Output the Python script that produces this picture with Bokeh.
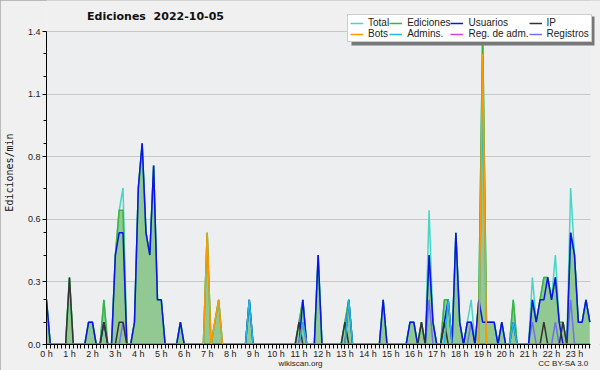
from bokeh.plotting import figure
from bokeh.models import Range1d, FixedTicker, Legend, LegendItem, Label, BoxAnnotation, LinearAxis
from bokeh.embed import file_html
from bokeh.resources import INLINE

# 10-minute bins, 00:00 ... 23:40 (6 bins per hour)
hour_labels = ["0 h", "1 h", "2 h", "3 h", "4 h", "5 h", "6 h", "7 h", "8 h", "9 h", "10 h", "11 h",
               "12 h", "13 h", "14 h", "15 h", "16 h", "17 h", "18 h", "19 h", "20 h", "21 h", "22 h", "23 h"]

# values in edits/min, one row per hour
total = [
    0.2, 0, 0, 0, 0, 0,
    0.3, 0, 0, 0, 0, 0.1,
    0.1, 0, 0, 0.2, 0, 0,
    0.4, 0.6, 0.7, 0, 0, 0.1,
    0.7, 0.9, 0.5, 0.4, 0.8, 0.2,
    0.2, 0, 0, 0, 0, 0.1,
    0, 0, 0, 0, 0, 0,
    0.5, 0, 0.1, 0.2, 0, 0,
    0, 0, 0, 0, 0, 0.2,
    0, 0, 0, 0, 0, 0,
    0, 0, 0, 0, 0, 0,
    0.1, 0.2, 0, 0, 0, 0.4,
    0, 0, 0, 0, 0, 0,
    0.1, 0.2, 0, 0, 0, 0,
    0, 0, 0, 0, 0.2, 0,
    0, 0, 0, 0, 0, 0.1,
    0.1, 0, 0.1, 0, 0.6, 0.1,
    0, 0, 0.2, 0.2, 0, 0.5,
    0.1, 0, 0.1, 0.2, 0, 0.2,
    1.4, 0.1, 0.1, 0.1, 0, 0.1,
    0, 0, 0.2, 0, 0, 0,
    0, 0.3, 0.1, 0.2, 0.3, 0.3,
    0.2, 0.4, 0.1, 0.1, 0, 0.7,
    0.4, 0.1, 0.1, 0.2, 0.1,
]
edits = [
    0.2, 0, 0, 0, 0, 0,
    0.3, 0, 0, 0, 0, 0.1,
    0.1, 0, 0, 0.2, 0, 0,
    0.4, 0.6, 0.6, 0, 0, 0.1,
    0.7, 0.9, 0.5, 0.4, 0.8, 0.2,
    0.2, 0, 0, 0, 0, 0.1,
    0, 0, 0, 0, 0, 0,
    0.5, 0, 0.1, 0.2, 0, 0,
    0, 0, 0, 0, 0, 0.2,
    0, 0, 0, 0, 0, 0,
    0, 0, 0, 0, 0, 0,
    0.1, 0.2, 0, 0, 0, 0.4,
    0, 0, 0, 0, 0, 0,
    0.1, 0.2, 0, 0, 0, 0,
    0, 0, 0, 0, 0.2, 0,
    0, 0, 0, 0, 0, 0.1,
    0.1, 0, 0.1, 0, 0.4, 0.1,
    0, 0, 0.2, 0.2, 0, 0.5,
    0.1, 0, 0.1, 0.1, 0, 0.2,
    1.4, 0.1, 0.1, 0.1, 0, 0.1,
    0, 0, 0.2, 0, 0, 0,
    0, 0.2, 0.1, 0.2, 0.3, 0.3,
    0.2, 0.3, 0.1, 0.1, 0, 0.5,
    0.4, 0.1, 0.1, 0.2, 0.1,
]
users = [
    0.2, 0, 0, 0, 0, 0,
    0, 0, 0, 0, 0, 0.1,
    0.1, 0, 0, 0.1, 0, 0,
    0.4, 0.5, 0.5, 0, 0, 0.1,
    0.7, 0.9, 0.5, 0.4, 0.8, 0.2,
    0.2, 0, 0, 0, 0, 0.1,
    0, 0, 0, 0, 0, 0,
    0, 0, 0, 0, 0, 0,
    0, 0, 0, 0, 0, 0.2,
    0, 0, 0, 0, 0, 0,
    0, 0, 0, 0, 0, 0,
    0, 0.2, 0, 0, 0, 0.4,
    0, 0, 0, 0, 0, 0,
    0, 0.2, 0, 0, 0, 0,
    0, 0, 0, 0, 0.2, 0,
    0, 0, 0, 0, 0, 0.1,
    0.1, 0, 0, 0, 0.4, 0.1,
    0, 0, 0.1, 0.2, 0, 0.5,
    0.1, 0, 0.1, 0.1, 0, 0.2,
    0.1, 0.1, 0.1, 0.1, 0, 0.1,
    0, 0, 0.1, 0, 0, 0,
    0, 0.2, 0.1, 0.2, 0.2, 0.3,
    0.2, 0.3, 0.1, 0, 0, 0.5,
    0.4, 0.1, 0.1, 0.2, 0.1,
]
ip = [
    0, 0, 0, 0, 0, 0,
    0.3, 0, 0, 0, 0, 0,
    0, 0, 0, 0.1, 0, 0,
    0, 0.1, 0.1, 0, 0, 0,
    0, 0, 0, 0, 0, 0,
    0, 0, 0, 0, 0, 0,
    0, 0, 0, 0, 0, 0,
    0, 0, 0, 0, 0, 0,
    0, 0, 0, 0, 0, 0,
    0, 0, 0, 0, 0, 0,
    0, 0, 0, 0, 0, 0,
    0.1, 0, 0, 0, 0, 0,
    0, 0, 0, 0, 0, 0,
    0.1, 0, 0, 0, 0, 0,
    0, 0, 0, 0, 0, 0,
    0, 0, 0, 0, 0, 0,
    0, 0, 0.1, 0, 0, 0,
    0, 0, 0.1, 0, 0, 0,
    0, 0, 0, 0, 0, 0,
    0, 0, 0, 0, 0, 0,
    0, 0, 0, 0, 0, 0,
    0, 0, 0, 0, 0.1, 0,
    0, 0, 0, 0.1, 0, 0,
    0, 0, 0, 0, 0,
]
bots = [
    0, 0, 0, 0, 0, 0,
    0, 0, 0, 0, 0, 0,
    0, 0, 0, 0, 0, 0,
    0, 0, 0, 0, 0, 0,
    0, 0, 0, 0, 0, 0,
    0, 0, 0, 0, 0, 0,
    0, 0, 0, 0, 0, 0,
    0.5, 0, 0.1, 0.2, 0, 0,
    0, 0, 0, 0, 0, 0,
    0, 0, 0, 0, 0, 0,
    0, 0, 0, 0, 0, 0,
    0, 0, 0, 0, 0, 0,
    0, 0, 0, 0, 0, 0,
    0, 0, 0, 0, 0, 0,
    0, 0, 0, 0, 0, 0,
    0, 0, 0, 0, 0, 0,
    0, 0, 0, 0, 0, 0,
    0, 0, 0, 0, 0, 0,
    0, 0, 0, 0, 0, 0,
    1.3, 0, 0, 0, 0, 0,
    0, 0, 0, 0, 0, 0,
    0, 0, 0, 0, 0, 0,
    0, 0, 0, 0, 0, 0,
    0, 0, 0, 0, 0,
]
admins = [
    0, 0, 0, 0, 0, 0,
    0, 0, 0, 0, 0, 0,
    0, 0, 0, 0, 0, 0,
    0, 0, 0, 0, 0, 0,
    0, 0, 0, 0, 0, 0,
    0, 0, 0, 0, 0, 0,
    0, 0, 0, 0, 0, 0,
    0, 0, 0, 0, 0, 0,
    0, 0, 0, 0, 0, 0.2,
    0, 0, 0, 0, 0, 0,
    0, 0, 0, 0, 0, 0,
    0, 0.1, 0, 0, 0, 0,
    0, 0, 0, 0, 0, 0,
    0, 0.2, 0, 0, 0, 0,
    0, 0, 0, 0, 0, 0,
    0, 0, 0, 0, 0, 0,
    0, 0, 0, 0, 0, 0,
    0, 0, 0, 0.2, 0, 0,
    0, 0, 0, 0, 0, 0,
    1.1, 0, 0, 0, 0, 0,
    0, 0, 0.1, 0, 0, 0,
    0, 0, 0, 0, 0, 0,
    0, 0, 0, 0, 0, 0,
    0, 0, 0, 0, 0,
]
admin_logs = [
    0, 0, 0, 0, 0, 0,
    0, 0, 0, 0, 0, 0,
    0, 0, 0, 0, 0, 0,
    0, 0, 0, 0, 0, 0,
    0, 0, 0, 0, 0, 0,
    0, 0, 0, 0, 0, 0,
    0, 0, 0, 0, 0, 0,
    0, 0, 0, 0, 0, 0,
    0, 0, 0, 0, 0, 0,
    0, 0, 0, 0, 0, 0,
    0, 0, 0, 0, 0, 0,
    0, 0.1, 0, 0, 0, 0,
    0, 0, 0, 0, 0, 0,
    0, 0, 0, 0, 0, 0,
    0, 0, 0, 0, 0, 0,
    0, 0, 0, 0, 0, 0,
    0, 0, 0, 0, 0, 0,
    0, 0, 0, 0, 0, 0,
    0, 0, 0, 0, 0, 0,
    0, 0, 0, 0, 0, 0,
    0, 0, 0, 0, 0, 0,
    0, 0, 0, 0, 0, 0,
    0, 0, 0, 0, 0, 0,
    0, 0, 0, 0, 0,
]
logs = [
    0, 0, 0, 0, 0, 0,
    0, 0, 0, 0, 0, 0,
    0, 0, 0, 0, 0, 0,
    0, 0, 0.1, 0, 0, 0,
    0, 0, 0, 0, 0, 0,
    0, 0, 0, 0, 0, 0,
    0, 0, 0, 0, 0, 0,
    0, 0, 0, 0, 0, 0,
    0, 0, 0, 0, 0, 0,
    0, 0, 0, 0, 0, 0,
    0, 0, 0, 0, 0, 0,
    0, 0, 0, 0, 0, 0,
    0, 0, 0, 0, 0, 0,
    0, 0, 0, 0, 0, 0,
    0, 0, 0, 0, 0, 0,
    0, 0, 0, 0, 0, 0,
    0, 0, 0, 0, 0.2, 0,
    0, 0, 0, 0, 0, 0,
    0, 0, 0, 0.1, 0, 0,
    0, 0, 0, 0, 0, 0,
    0, 0, 0, 0, 0, 0,
    0, 0.1, 0, 0, 0, 0,
    0, 0.1, 0, 0, 0, 0.2,
    0, 0, 0, 0, 0,
]

y_tick_values = [0, 0.28, 0.56, 0.84, 1.12, 1.4]
y_tick_labels = ["0.0", "0.3", "0.6", "0.8", "1.1", "1.4"]
y_minor_values = [0.1, 0.2, 0.4, 0.5, 0.7, 0.9, 1.0, 1.2, 1.3]
Y_MAX = 1.4
credit_labels = ["wikiscan.org", "CC BY-SA 3.0"]

bins = list(range(len(total)))
hour_ticks = [6 * h for h in range(len(hour_labels))]

FONT = "Liberation Sans"

# ---- geometry (pixels in the 600x370 canvas) ----
W, H = 600, 370
LEFT, BOTTOM = 46, 26
FRAME_W = W - LEFT                # frame runs to the right canvas edge
FRAME_H = H - BOTTOM              # frame runs to the top edge (title/legend live inside)
PX_PER_BIN = 3.826
TOP_PAD = 31                      # pixels between canvas top and y = 1.4
x_end = FRAME_W / PX_PER_BIN
px_per_y = (FRAME_H - TOP_PAD) / Y_MAX
y_end = FRAME_H / px_per_y


def bx(px):   # canvas x pixel -> bin coordinate
    return (px - LEFT) / PX_PER_BIN


def vy(py):   # canvas y pixel (from top) -> value coordinate
    return (FRAME_H - py) / px_per_y


X_AXIS_END = bx(590)

p = figure(width=W, height=H, output_backend="svg", toolbar_location=None,
           x_range=Range1d(0, x_end), y_range=Range1d(0, y_end),
           min_border_left=LEFT, min_border_right=0, min_border_top=0, min_border_bottom=BOTTOM,
           background_fill_color="#edeef0", border_fill_color="#f0f0f0",
           outline_line_color=None)
p.title.text = ""

# axes
p.xaxis.ticker = FixedTicker(ticks=hour_ticks, minor_ticks=bins)
p.xaxis.major_label_overrides = {t: l for t, l in zip(hour_ticks, hour_labels)}
p.xaxis.bounds = (0, X_AXIS_END)
p.yaxis.ticker = FixedTicker(ticks=y_tick_values, minor_ticks=y_minor_values)
p.yaxis.major_label_overrides = {t: l for t, l in zip(y_tick_values, y_tick_labels)}
p.yaxis.bounds = (0, Y_MAX)
for ax in (p.xaxis[0], p.yaxis[0]):
    ax.axis_line_color = "black"
    ax.major_tick_line_color = "black"
    ax.minor_tick_line_color = "black"
    ax.major_tick_in = 0
    ax.minor_tick_in = 0
    ax.major_label_text_font = FONT
    ax.major_label_text_font_size = "9px"
    ax.major_label_text_color = "#222222"
p.xaxis.major_label_standoff = 0
p.yaxis.major_label_standoff = 2
p.xaxis.major_tick_out = 4
p.xaxis.minor_tick_out = 4
p.yaxis.major_tick_out = 4
p.yaxis.minor_tick_out = 3
p.yaxis.axis_label = "Ediciones/min"
p.yaxis.axis_label_text_font = "DejaVu Sans Mono"
p.yaxis.axis_label_text_font_size = "10px"
p.yaxis.axis_label_text_font_style = "normal"
p.yaxis.axis_label_text_color = "#111111"
p.yaxis.axis_label_standoff = 10

# credits line under the hour labels (an axis without line or ticks)
credit_ticks = [bx(300), bx(563)]
credits_axis = LinearAxis(ticker=FixedTicker(ticks=credit_ticks),
                          major_label_overrides={t: l for t, l in zip(credit_ticks, credit_labels)},
                          axis_line_color=None, major_tick_line_color=None, minor_tick_line_color=None,
                          major_tick_out=0, minor_tick_out=0, major_tick_in=0, minor_tick_in=0,
                          major_label_standoff=-3,
                          major_label_text_font=FONT, major_label_text_font_size="8px",
                          major_label_text_color="#222222")
p.add_layout(credits_axis, "below")

p.xgrid.visible = False
p.ygrid.grid_line_color = "#c8c8c8"
p.ygrid.grid_line_width = 1

# page-coloured bands above the 1.4 grid line and right of the time axis
p.add_layout(BoxAnnotation(bottom=vy(30), fill_color="#f0f0f0", fill_alpha=1,
                           line_color=None, level="underlay"))
p.add_layout(BoxAnnotation(left=X_AXIS_END, fill_color="#f0f0f0", fill_alpha=1,
                           line_color=None, level="underlay"))

# series
p.varea(x=bins, y1=0, y2=edits, fill_color="#92c992")
lw = 1.5
r_total = p.line(bins, total, line_color="#46d6c6", line_width=lw)
r_edits = p.line(bins, edits, line_color="#3cb43c", line_width=lw)
r_logs = p.line(bins, logs, line_color="#7070f0", line_width=lw)
r_users = p.line(bins, users, line_color="#0a14e6", line_width=lw)
r_ip = p.line(bins, ip, line_color="#333333", line_width=lw)
r_adminlogs = p.line(bins, admin_logs, line_color="#cc44dd", line_width=lw)
r_admins = p.line(bins, admins, line_color="#22b8e0", line_width=lw)
r_bots = p.line(bins, bots, line_color="#ff9900", line_width=lw)

# legend (inside the frame, above y = 1.4) with a drop shadow
p.add_layout(BoxAnnotation(left=bx(351), right=bx(594), bottom=vy(45), top=vy(16),
                           fill_color="#777777", fill_alpha=1, line_color=None))

items = [
    LegendItem(label="Total", renderers=[r_total]),
    LegendItem(label="Ediciones", renderers=[r_edits]),
    LegendItem(label="Usuarios", renderers=[r_users]),
    LegendItem(label="IP", renderers=[r_ip]),
    LegendItem(label="Bots", renderers=[r_bots]),
    LegendItem(label="Admins.", renderers=[r_admins]),
    LegendItem(label="Reg. de adm.", renderers=[r_adminlogs]),
    LegendItem(label="Registros", renderers=[r_logs]),
]
legend = Legend(items=items, location=(347 - LEFT, FRAME_H - 42), orientation="horizontal", ncols=4,
                background_fill_color="white", background_fill_alpha=1,
                border_line_color="#999999", border_line_width=1,
                padding=2, spacing=0, margin=0,
                label_text_font=FONT, label_text_font_size="10px", label_text_color="#222222",
                label_height=10, glyph_height=10, glyph_width=13, label_standoff=5)
p.add_layout(legend)

# title inside the frame (data units)
p.add_layout(Label(x=bx(155), y=vy(16), text="Ediciones\u00a0 2022-10-05",
                   text_font="DejaVu Sans", text_font_size="11px", text_font_style="bold",
                   text_align="center", text_baseline="middle", text_color="#111111"))

p.styles = {"outline": "1px solid #a8a8a8", "outline-offset": "-1px"}

open("out.html", "w").write(file_html(p, INLINE))
